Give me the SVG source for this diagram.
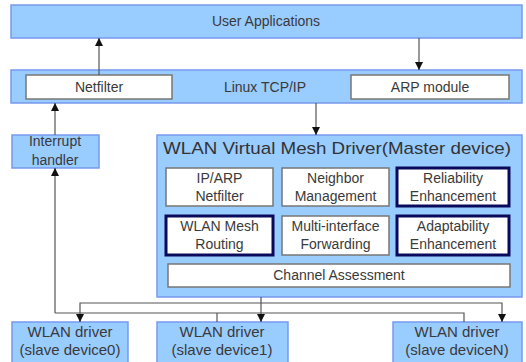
<svg xmlns="http://www.w3.org/2000/svg" width="526" height="362" viewBox="0 0 526 362">
<defs>
<marker id="ah" viewBox="0 0 8 10" refX="8" refY="5" markerWidth="8" markerHeight="10" markerUnits="userSpaceOnUse" orient="auto">
<path d="M0,1 L8,5 L0,9 Z" fill="#111"/>
</marker>
<style>
.blue{fill:#99ccff;stroke:#7799ee;stroke-width:1.5}
.wbox{fill:#ffffff;stroke:#777777;stroke-width:1.5}
.tbox{fill:#ffffff;stroke:#0a0a5c;stroke-width:3}
.t{font-family:"Liberation Sans","DejaVu Sans",Arial,sans-serif;font-size:14px;fill:#3a3a3a;text-anchor:middle}
.s{font-size:15px}
.title{font-family:"Liberation Sans","DejaVu Sans",Arial,sans-serif;font-size:17px;fill:#333;text-anchor:middle}
.ln{fill:none;stroke:#555;stroke-width:1.2}
.ar{fill:none;stroke:#555;stroke-width:1.2;marker-end:url(#ah)}
</style>
</defs>
<rect width="526" height="362" fill="#ffffff"/>

<g id="user-apps">
<rect class="blue" x="11" y="5" width="511" height="33"/>
<text class="t" x="266" y="26">User Applications</text>
</g>

<g id="linux-tcpip">
<rect class="blue" x="11" y="70" width="511" height="33"/>
<text class="t" x="265" y="92">Linux TCP/IP</text>
</g>
<g id="netfilter">
<rect class="wbox" x="26" y="75" width="146" height="24"/>
<text class="t" x="99" y="92">Netfilter</text>
</g>
<g id="arp-module">
<rect class="wbox" x="351" y="75" width="158" height="24"/>
<text class="t" x="430" y="92">ARP module</text>
</g>

<g id="interrupt-handler">
<rect class="blue" x="12" y="135" width="87" height="33"/>
<text class="t" x="55" y="146">Interrupt</text>
<text class="t" x="55" y="165">handler</text>
</g>

<g id="wlan-master">
<rect class="blue" x="157" y="135" width="365" height="162"/>
<text class="title" x="337" y="154" textLength="348" lengthAdjust="spacingAndGlyphs">WLAN Virtual Mesh Driver(Master device)</text>
</g>
<g id="ip-arp-netfilter">
<rect class="wbox" x="166" y="168" width="107" height="38"/>
<text class="t" x="219.5" y="183">IP/ARP</text>
<text class="t" x="219.5" y="201">Netfilter</text>
</g>
<g id="neighbor-management">
<rect class="wbox" x="282" y="168" width="107" height="38"/>
<text class="t" x="335.5" y="183">Neighbor</text>
<text class="t" x="335.5" y="201">Management</text>
</g>
<g id="reliability-enhancement">
<rect class="tbox" x="397" y="168" width="112" height="38"/>
<text class="t" x="453" y="183">Reliability</text>
<text class="t" x="453" y="201">Enhancement</text>
</g>
<g id="wlan-mesh-routing">
<rect class="tbox" x="166" y="216" width="107" height="39"/>
<text class="t" x="219.5" y="231">WLAN Mesh</text>
<text class="t" x="219.5" y="249">Routing</text>
</g>
<g id="multi-interface-forwarding">
<rect class="wbox" x="282" y="216" width="107" height="39"/>
<text class="t" x="335.5" y="231">Multi-interface</text>
<text class="t" x="335.5" y="249">Forwarding</text>
</g>
<g id="adaptability-enhancement">
<rect class="tbox" x="397" y="216" width="112" height="39"/>
<text class="t" x="453" y="231">Adaptability</text>
<text class="t" x="453" y="249">Enhancement</text>
</g>
<g id="channel-assessment">
<rect class="wbox" x="168" y="264" width="342" height="23"/>
<text class="t" x="339" y="280">Channel Assessment</text>
</g>

<g id="slave0">
<rect class="blue" x="12" y="322" width="116" height="46"/>
<text class="t s" x="70" y="337">WLAN driver</text>
<text class="t s" x="70" y="355">(slave device0)</text>
</g>
<g id="slave1">
<rect class="blue" x="157" y="322" width="131" height="46"/>
<text class="t s" x="222" y="337">WLAN driver</text>
<text class="t s" x="222" y="355">(slave device1)</text>
</g>
<g id="slaveN">
<rect class="blue" x="393" y="322" width="129" height="46"/>
<text class="t s" x="457" y="337">WLAN driver</text>
<text class="t s" x="457" y="355">(slave deviceN)</text>
</g>

<g id="connectors">
<line class="ar" x1="99" y1="75" x2="99" y2="38"/>
<line class="ar" x1="419" y1="38" x2="419" y2="70"/>
<line class="ar" x1="316" y1="103" x2="316" y2="135"/>
<line class="ar" x1="55" y1="135" x2="55" y2="103"/>
<line class="ar" x1="55" y1="313" x2="55" y2="168"/>
<polyline class="ln" points="55,313 464,313 464,322"/>
<line class="ln" x1="217" y1="313" x2="217" y2="322"/>
<line class="ar" x1="261" y1="297" x2="261" y2="322"/>
<polyline class="ar" points="261,303 80,303 80,322"/>
<polyline class="ar" points="261,303 502,303 502,322"/>
</g>
</svg>
